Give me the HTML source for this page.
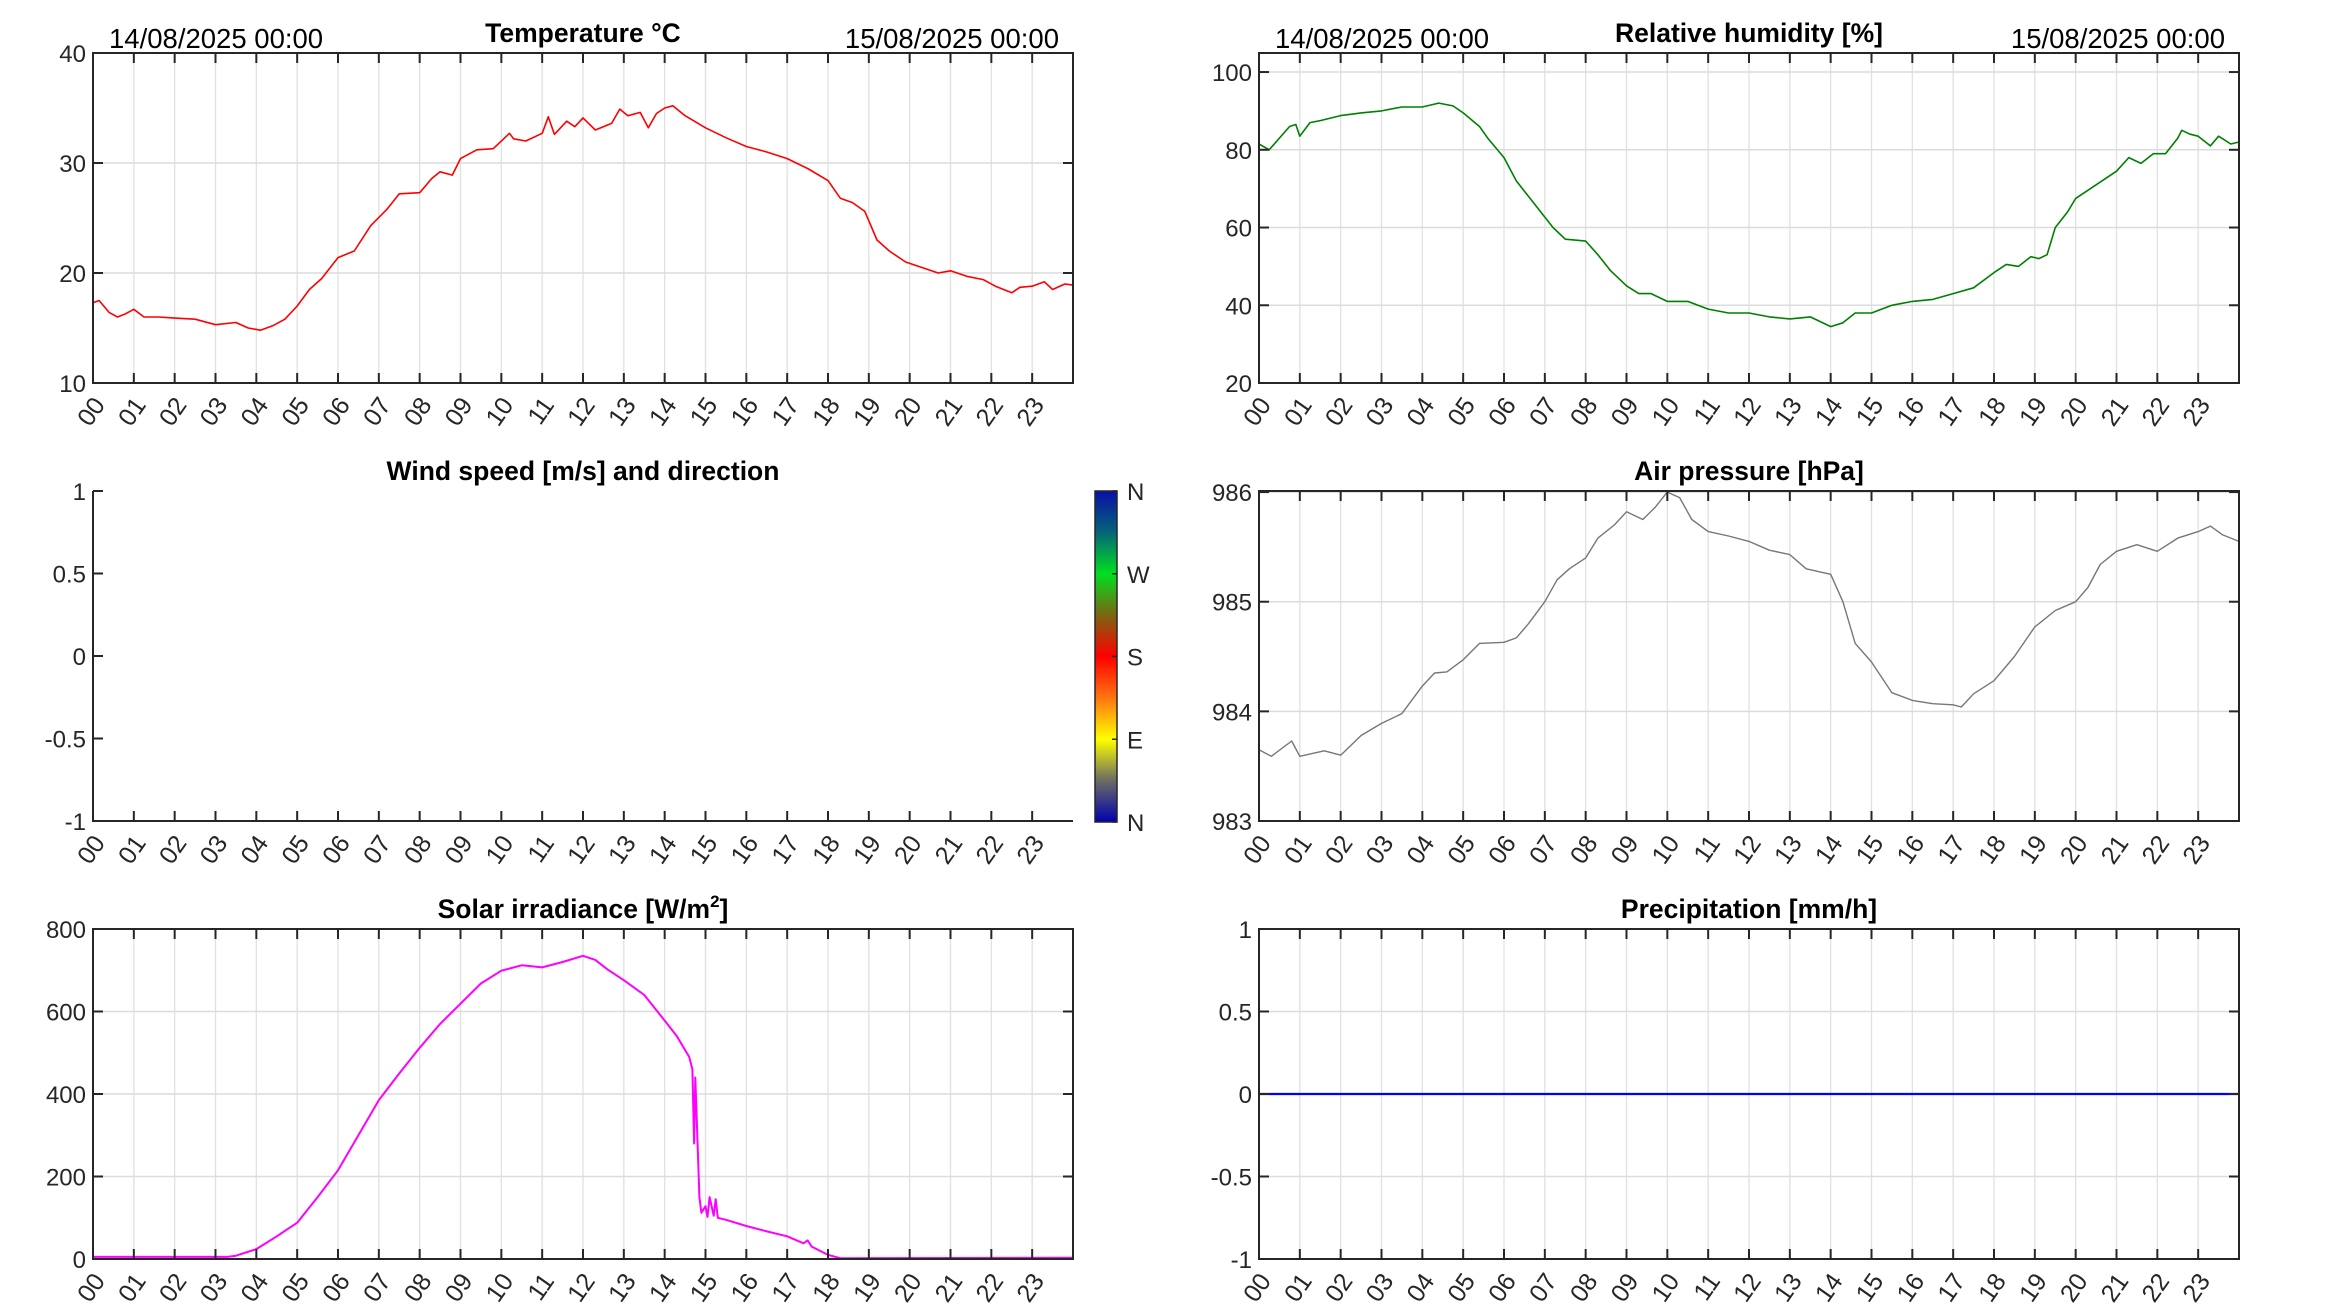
<!DOCTYPE html>
<html><head><meta charset="utf-8">
<style>
html,body{margin:0;padding:0;background:#fff;}
svg{display:block;font-family:"Liberation Sans",Arial,sans-serif;}
</style></head>
<body>
<svg id="fig" width="2333" height="1313" viewBox="0 0 2333 1313" xmlns="http://www.w3.org/2000/svg">
<defs>
<linearGradient id="dirgrad" x1="0" y1="0" x2="0" y2="1">
<stop offset="0" stop-color="#0a10a8"/>
<stop offset="0.12" stop-color="#05607a"/>
<stop offset="0.25" stop-color="#00e020"/>
<stop offset="0.38" stop-color="#806010"/>
<stop offset="0.5" stop-color="#ff0000"/>
<stop offset="0.62" stop-color="#ff7010"/>
<stop offset="0.75" stop-color="#ffff00"/>
<stop offset="0.87" stop-color="#707060"/>
<stop offset="1" stop-color="#0000b0"/>
</linearGradient>
</defs>
</svg>
<script>
// ---- data ----
const hourLabels=["00","01","02","03","04","05","06","07","08","09","10","11","12","13","14","15","16","17","18","19","20","21","22","23"];
const tempTime=[0,0.15,0.4,0.6,0.8,1.0,1.25,1.6,2.0,2.5,3.0,3.5,3.8,4.1,4.4,4.7,5.0,5.3,5.6,6.0,6.4,6.8,7.2,7.5,8.0,8.3,8.5,8.8,9.0,9.4,9.8,10.2,10.3,10.6,11.0,11.15,11.3,11.6,11.8,12.0,12.3,12.7,12.9,13.1,13.4,13.6,13.8,14.0,14.2,14.5,15.0,15.5,16.0,16.5,17.0,17.5,18.0,18.3,18.6,18.9,19.2,19.5,19.9,20.3,20.7,21.0,21.4,21.8,22.1,22.5,22.7,23.0,23.3,23.5,23.8,24];
const tempVals=[17.3,17.5,16.4,16.0,16.3,16.7,16.0,16.0,15.9,15.8,15.3,15.5,15.0,14.8,15.2,15.8,17.0,18.5,19.5,21.4,22.0,24.3,25.8,27.2,27.3,28.6,29.2,28.9,30.4,31.2,31.3,32.7,32.2,32.0,32.7,34.2,32.6,33.8,33.3,34.1,33.0,33.6,34.9,34.3,34.6,33.2,34.5,35.0,35.2,34.3,33.2,32.3,31.5,31.0,30.4,29.5,28.4,26.8,26.4,25.6,23.0,22.0,21.0,20.5,20.0,20.2,19.7,19.4,18.8,18.2,18.7,18.8,19.2,18.5,19.0,18.9];
const humTime=[0,0.25,0.5,0.75,0.9,1.0,1.25,1.5,2.0,2.5,3.0,3.5,4.0,4.4,4.75,5.0,5.4,5.6,6.0,6.3,6.6,6.9,7.2,7.5,8.0,8.3,8.6,9.0,9.3,9.6,10.0,10.5,11.0,11.5,12.0,12.5,13.0,13.5,14.0,14.3,14.6,15.0,15.5,16.0,16.5,17.0,17.5,18.0,18.3,18.6,18.9,19.1,19.3,19.5,19.8,20.0,20.5,21.0,21.3,21.6,21.9,22.2,22.5,22.6,22.8,23.0,23.3,23.5,23.8,24];
const humVals=[81.5,80,83,86,86.5,83.5,87,87.5,88.8,89.5,90,91,91,92,91.3,89.5,86,83,78,72,68,64,60,57,56.5,53,49,45,43,43,41,41,39,38,38,37,36.5,37,34.5,35.5,38,38,40,41,41.5,43,44.5,48.4,50.5,50,52.5,52,53,60,64,67.5,71,74.5,78,76.5,79,79,83,85,84,83.5,81,83.5,81.5,82];
const presTime=[0,0.3,0.8,1.0,1.6,2.0,2.5,3.0,3.5,4.0,4.3,4.6,5.0,5.4,6.0,6.3,6.6,7.0,7.3,7.6,8.0,8.3,8.7,9.0,9.4,9.7,10.0,10.3,10.6,11.0,11.5,12.0,12.5,13.0,13.4,14.0,14.3,14.6,15.0,15.5,16.0,16.5,17.0,17.2,17.5,18.0,18.5,19.0,19.5,20.0,20.3,20.6,21.0,21.5,22.0,22.5,23.0,23.3,23.6,24];
const presVals=[983.65,983.59,983.73,983.59,983.64,983.6,983.78,983.89,983.98,984.23,984.35,984.36,984.47,984.62,984.63,984.67,984.8,985.0,985.2,985.3,985.4,985.58,985.7,985.82,985.75,985.86,986.0,985.95,985.75,985.64,985.6,985.55,985.47,985.43,985.3,985.25,985.0,984.62,984.45,984.17,984.1,984.07,984.06,984.04,984.16,984.28,984.5,984.77,984.92,985.0,985.13,985.34,985.46,985.52,985.46,985.58,985.64,985.69,985.61,985.55];
const solTime=[0,3.3,3.5,4.0,4.5,5.0,5.5,6.0,6.5,7.0,7.5,8.0,8.5,9.0,9.5,10.0,10.5,11.0,11.5,12.0,12.3,12.6,13.0,13.5,14.0,14.3,14.6,14.68,14.72,14.75,14.8,14.85,14.9,15.0,15.05,15.1,15.2,15.25,15.3,15.5,16.0,16.5,17.0,17.4,17.5,17.6,18.0,18.3,24];
const solVals=[5,5,8,24,55,88,150,215,300,385,450,512,570,619,668,699,712,707,720,735,725,702,676,640,578,540,490,460,280,440,300,150,112,128,102,150,105,145,100,95,80,67,55,38,45,30,10,2,3];
const precTime=[0,24];
const precVals=[0,0];

const svg=document.getElementById('fig');
const NS='http://www.w3.org/2000/svg';
function mk(tag,attrs,parent){const e=document.createElementNS(NS,tag);for(const k in attrs)e.setAttribute(k,attrs[k]);(parent||svg).appendChild(e);return e;}

function panel(opt){
  const g=mk('g',{});
  
  
  const L=opt.x,T=opt.y,W=980,H=330;
  const xs=h=>L+h/24*W;
  const ys=v=>T+H-(v-opt.ymin)/(opt.ymax-opt.ymin)*H;
  const grid=opt.grid!==false;
  if(grid){
    for(let i=1;i<24;i++){const gl=mk('line',{x1:xs(i),x2:xs(i),y1:T,y2:T+H,stroke:'#e1e1e1','stroke-width':1.3},g);
      }
    opt.yticks.forEach(v=>{const gl=mk('line',{x1:L,x2:L+W,y1:ys(v),y2:ys(v),stroke:'#dcdcdc','stroke-width':1.5},g);
      });
  }
  if(opt.t){
    const pts=opt.t.map((h,i)=>xs(h).toFixed(1)+','+ys(opt.v[i]).toFixed(1)).join(' ');
    const pl=mk('polyline',{points:pts,fill:'none',stroke:opt.color,'stroke-width':opt.sw||1.6,'stroke-linejoin':'round'},g);
    
    
  }
  if(opt.box!==false){mk('rect',{x:L,y:T,width:W,height:H,fill:'none',stroke:'#262626','stroke-width':2},g);}
  else{mk('path',{d:`M${L},${T}V${T+H}H${L+W}`,fill:'none',stroke:'#262626','stroke-width':2},g);}
  for(let i=0;i<24;i++){
    const x=xs(i);
    mk('line',{x1:x,x2:x,y1:T+H,y2:T+H-10,stroke:'#262626','stroke-width':2},g);
    if(opt.box!==false)mk('line',{x1:x,x2:x,y1:T,y2:T+10,stroke:'#262626','stroke-width':2},g);
    const tl=mk('text',{x:x+13,y:T+H+22,'font-size':25,fill:'#262626','text-anchor':'end',transform:`rotate(-55 ${x+13} ${T+H+22})`},g);
    tl.textContent=hourLabels[i];
    
  }
  opt.yticks.forEach((v,i)=>{
    const y=ys(v);
    mk('line',{x1:L,x2:L+10,y1:y,y2:y,stroke:'#262626','stroke-width':2},g);
    if(opt.box!==false)mk('line',{x1:L+W,x2:L+W-10,y1:y,y2:y,stroke:'#262626','stroke-width':2},g);
    const tl=mk('text',{x:L-7,y:y+9,'font-size':24,fill:'#262626','text-anchor':'end'},g);
    tl.textContent=opt.ylabels[i];
    
  });
  const tt=mk('text',{x:L+W/2,y:T-11,'font-size':26.5,'font-weight':'bold',fill:'#000','text-anchor':'middle'},g);
  tt.innerHTML=opt.title;
  
  if(opt.dates){
    const d1=mk('text',{x:L+16,y:T-5,'font-size':27.5,fill:'#000'},g);d1.textContent='14/08/2025 00:00';
    
    const d2=mk('text',{x:L+W-14,y:T-5,'font-size':27.5,fill:'#000','text-anchor':'end'},g);d2.textContent='15/08/2025 00:00';
    
  }
}

panel({name:'temperature-chart',x:93,y:53,ymin:10,ymax:40,yticks:[10,20,30,40],ylabels:['10','20','30','40'],t:tempTime,v:tempVals,color:'#ff0000',title:'Temperature °C',dates:true});
panel({name:'humidity-chart',x:1259,y:53,ymin:20,ymax:104.9,yticks:[20,40,60,80,100],ylabels:['20','40','60','80','100'],t:humTime,v:humVals,color:'#008000',title:'Relative humidity [%]',dates:true});
panel({name:'wind-chart',x:93,y:491,ymin:-1,ymax:1,yticks:[-1,-0.5,0,0.5,1],ylabels:['-1','-0.5','0','0.5','1'],title:'Wind speed [m/s] and direction',grid:false,box:false});
panel({name:'pressure-chart',x:1259,y:491,ymin:983,ymax:986.01,yticks:[983,984,985,986],ylabels:['983','984','985','986'],t:presTime,v:presVals,color:'#777777',sw:1.4,title:'Air pressure [hPa]'});
panel({name:'solar-chart',x:93,y:929,ymin:0,ymax:800,yticks:[0,200,400,600,800],ylabels:['0','200','400','600','800'],t:solTime,v:solVals,color:'#ff00ff',sw:2,title:'Solar irradiance [W/m<tspan font-size="17" dy="-11">2</tspan><tspan dy="11">]</tspan>'});
panel({name:'precipitation-chart',x:1259,y:929,ymin:-1,ymax:1,yticks:[-1,-0.5,0,0.5,1],ylabels:['-1','-0.5','0','0.5','1'],t:precTime,v:precVals,color:'#0000ff',sw:2.2,title:'Precipitation [mm/h]'});

const cb=mk('rect',{x:1095,y:491,width:22,height:331,fill:'url(#dirgrad)',stroke:'#262626','stroke-width':1.5});


const dirLabels=['N','W','S','E','N'];
dirLabels.forEach((s,i)=>{
  const y=491+i*331/4;
  mk('line',{x1:1117,x2:1112,y1:y,y2:y,stroke:'#262626','stroke-width':1.5});
  const t=mk('text',{x:1127,y:y+9,'font-size':24,fill:'#262626'});
  t.textContent=s;
  
  
});
</script>
</body></html>
